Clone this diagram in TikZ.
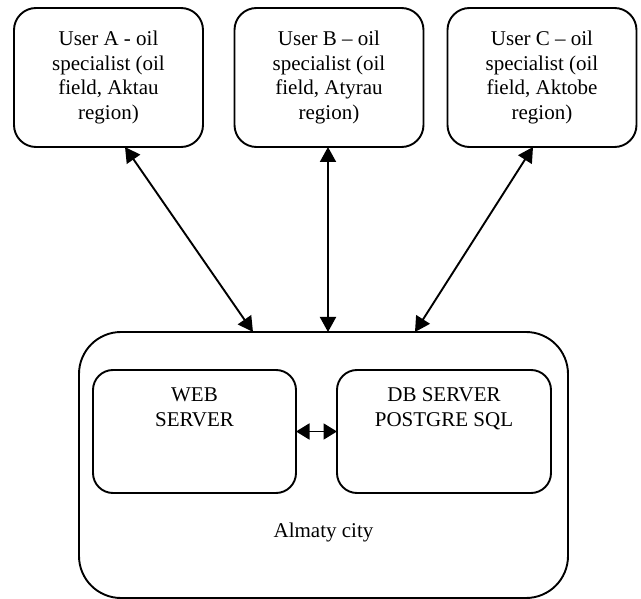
\documentclass[tikz,border=0pt]{standalone}
\usepackage{fontspec}
\setmainfont{Liberation Serif}
\usetikzlibrary{arrows.meta}
\begin{document}
\begin{tikzpicture}[x=1pt,y=-1pt,
  every node/.style={inner sep=0pt, outer sep=0pt},
  line width=1.9pt,
  txt/.style={font=\fontsize{21}{24.5}\selectfont, align=center},
  userbox/.style={draw, rounded corners=22pt, minimum width=189pt, minimum height=139pt, txt},
  srvbox/.style={draw, rounded corners=20pt, minimum height=123pt},
  citybox/.style={draw, rounded corners=42pt, minimum width=489pt, minimum height=266pt},
  tip/.style={Triangle[length=15pt,width=16pt]},
  link/.style={{Triangle[length=15pt,width=16pt]}-{Triangle[length=15pt,width=16pt]}},
  shortlink/.style={{Triangle[length=13.5pt,width=16pt]}-{Triangle[length=13.5pt,width=16pt]}}
]
\useasboundingbox (0,0) rectangle (641,599);

% regional users
\node[userbox] (ua) at (108.5,77.5) {User A - oil\\specialist (oil\\field, Aktau\\region)};
\node[userbox] (ub) at (329,77.5) {User B – oil\\specialist (oil\\field, Atyrau\\region)};
\node[userbox] (uc) at (542,77.5) {User C – oil\\specialist (oil\\field, Aktobe\\region)};

% central site
\node[citybox] (city) at (323.5,465) {};
\node[srvbox, minimum width=203pt] (web) at (194.5,431.5) {};
\node[srvbox, minimum width=214pt] (db) at (444,431.5) {};

\node[txt, anchor=north] at ([yshift=-18pt]web.north) {WEB\\SERVER};
\node[txt, anchor=north] at ([yshift=-18pt]db.north) {DB SERVER\\POSTGRE SQL};
\node[txt] (cityname) at (323.5,532) {Almaty city};

% links
\draw[link] ([xshift=16.5pt]ua.south) -- ([xshift=-70.5pt]city.north);
\draw[link] ([xshift=-1pt]ub.south) -- ([xshift=4.5pt]city.north);
\draw[link] ([xshift=-9pt]uc.south) -- ([xshift=91.5pt]city.north);
\draw[shortlink] (web.east) -- (db.west);
\end{tikzpicture}
\end{document}
